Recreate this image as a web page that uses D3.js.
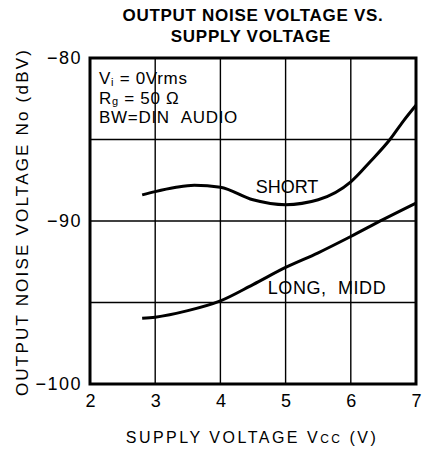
<!DOCTYPE html>
<html lang="en">
<head>
    <meta charset="UTF-8">
    <script src="https://d3js.org/d3.v7.min.js"></script>
    <title>Output Noise Voltage vs. Supply Voltage</title>
    <style>
        body { margin: 0; background: white; }
        text { font-family: "Liberation Sans", Arial, Helvetica, sans-serif; fill: black; }
    </style>
</head>
<body>
<script>
    // data (supply voltage in V, noise in dBV)
    var shortVcc = [2.8, 3.0, 3.3, 3.6, 4.0, 4.5, 5.0, 5.5, 6.0, 6.3, 6.6, 6.8, 7.0];
    var shortNo  = [-88.4, -88.2, -87.95, -87.8, -87.93, -88.7, -89.0, -88.7, -87.6, -86.35, -85.0, -83.9, -82.9];
    var longVcc  = [2.8, 3.0, 3.5, 4.0, 4.5, 5.0, 5.5, 6.0, 6.5, 7.0];
    var longNo   = [-95.97, -95.9, -95.5, -94.9, -93.9, -92.85, -91.95, -90.95, -89.9, -88.9];
    var xTicks = [2, 3, 4, 5, 6, 7];
    var yGrid = [-85, -90, -95];
    var yTickLabels = [-80, -90, -100];

    var canvasWidth = 425;
    var canvasHeight = 453;
    var marginLeft = 90, marginTop = 58, width = 326, height = 326;

    var svg = d3.select("body").append("svg")
        .attr("width", canvasWidth)
        .attr("height", canvasHeight);

    var xScale = d3.scaleLinear().domain([2, 7]).range([0, width]);
    var yScale = d3.scaleLinear().domain([-100, -80]).range([height, 0]);

    // title
    var title = svg.append("text")
        .attr("text-anchor", "middle")
        .style("font-weight", "bold")
        .style("font-size", "17px")
        .style("letter-spacing", "0.7px");
    title.append("tspan").attr("x", 253).attr("y", 21).text("OUTPUT NOISE VOLTAGE VS.");
    title.append("tspan").attr("x", 251).attr("y", 42).text("SUPPLY VOLTAGE");

    var g = svg.append("g")
        .attr("transform", "translate(" + marginLeft + "," + marginTop + ")");

    // grid
    g.selectAll(".vgrid").data(xTicks.slice(1, -1)).enter().append("line")
        .attr("x1", function(d) { return xScale(d); })
        .attr("x2", function(d) { return xScale(d); })
        .attr("y1", 0).attr("y2", height)
        .attr("stroke", "black").attr("stroke-width", 1.4);
    g.selectAll(".hgrid").data(yGrid).enter().append("line")
        .attr("y1", function(d) { return yScale(d); })
        .attr("y2", function(d) { return yScale(d); })
        .attr("x1", 0).attr("x2", width)
        .attr("stroke", "black").attr("stroke-width", 1.4);

    // frame
    g.append("rect")
        .attr("x", 0).attr("y", 0).attr("width", width).attr("height", height)
        .attr("fill", "none").attr("stroke", "black").attr("stroke-width", 3);

    // axes (labels only, frame drawn above)
    var xAxis = g.append("g")
        .attr("transform", "translate(0," + height + ")")
        .call(d3.axisBottom(xScale).tickValues(xTicks).tickSize(0).tickPadding(10)
            .tickFormat(d3.format("d")));
    xAxis.select(".domain").remove();
    xAxis.selectAll("text").style("font-size", "18px");

    var yAxis = g.append("g")
        .call(d3.axisLeft(yScale).tickValues(yTickLabels).tickSize(0).tickPadding(8)
            .tickFormat(function(d) { return "\u2212" + Math.abs(d); }));
    yAxis.select(".domain").remove();
    yAxis.selectAll("text").style("font-size", "18px").style("letter-spacing", "1.5px");

    // curves
    var line = d3.line()
        .x(function(d) { return xScale(d[0]); })
        .y(function(d) { return yScale(d[1]); })
        .curve(d3.curveMonotoneX);

    g.append("path")
        .datum(d3.zip(shortVcc, shortNo))
        .attr("d", line)
        .attr("fill", "none").attr("stroke", "black").attr("stroke-width", 3);
    g.append("path")
        .datum(d3.zip(longVcc, longNo))
        .attr("d", line)
        .attr("fill", "none").attr("stroke", "black").attr("stroke-width", 3);

    // curve labels
    g.append("text").attr("x", 197).attr("y", 135)
        .attr("text-anchor", "middle").style("font-size", "18px").text("SHORT");
    g.append("text").attr("x", 237).attr("y", 236)
        .attr("text-anchor", "middle").style("font-size", "18px")
        .style("letter-spacing", "0.6px").text("LONG,\u00A0 MIDD");

    // conditions, one text per line
    var l1 = g.append("text").attr("x", 9).attr("y", 26)
        .style("font-size", "17px").style("letter-spacing", "0.7px");
    l1.append("tspan").text("V");
    l1.append("tspan").attr("dy", 1.5).style("font-size", "11px").text("i");
    l1.append("tspan").attr("dy", -1.5).text(" = 0Vrms");
    var l2 = g.append("text").attr("x", 9).attr("y", 45.5)
        .style("font-size", "17px").style("letter-spacing", "0.7px");
    l2.append("tspan").text("R");
    l2.append("tspan").attr("dy", 1.5).style("font-size", "11px").text("g");
    l2.append("tspan").attr("dy", -1.5).text(" = 50 \u03A9");
    g.append("text").attr("x", 9).attr("y", 65)
        .style("font-size", "17px").style("letter-spacing", "0.7px")
        .text("BW=DIN\u00A0\u00A0AUDIO");

    // axis titles
    var xt = svg.append("text")
        .attr("x", 252).attr("y", 443)
        .attr("text-anchor", "middle")
        .style("font-size", "16px").style("letter-spacing", "2.5px");
    xt.append("tspan").text("SUPPLY VOLTAGE V");
    xt.append("tspan").style("font-size", "12px").text("CC");
    xt.append("tspan").text(" (V)");

    var yt = svg.append("text")
        .attr("transform", "translate(28,222) rotate(-90)")
        .attr("text-anchor", "middle")
        .style("font-size", "17px").style("letter-spacing", "2.2px");
    yt.append("tspan").text("OUTPUT NOISE VOLTAGE No (dBV)");
</script>
</body>
</html>
